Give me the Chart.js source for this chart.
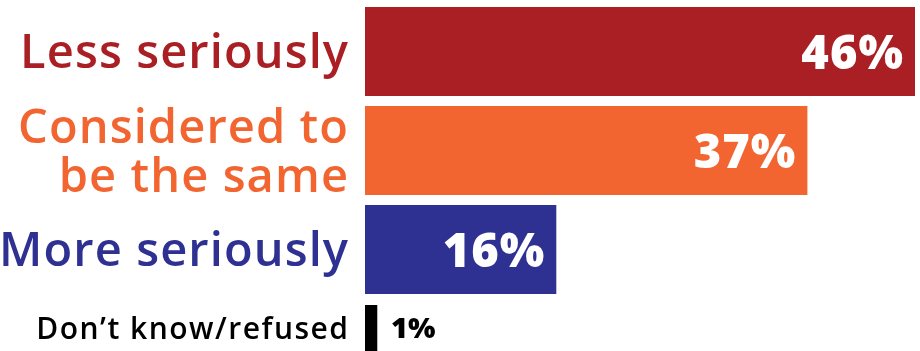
<!DOCTYPE html>
<html>
<head>
<meta charset="utf-8">
<script src="https://cdn.jsdelivr.net/npm/chart.js"></script>
<style>
  body { margin: 0; background: #fff; }
  canvas { display: block; }
</style>
</head>
<body>
<canvas id="chart-main" width="920" height="300"></canvas>
<canvas id="chart-other" width="920" height="51"></canvas>
<script>
const categories = [['Less seriously'], ['Considered to', 'be the same'], ['More seriously'], ['Don’t know/refused']];
const values = [46, 37, 16, 1];
const colors = ['#A91F24', '#F26430', '#2E3192', '#000000'];
const valueLabels = values.map(v => v + '%');

const labelFont = '"Open Sans"';
const valueFont = '"Open Sans"';

// category names on the left + value text on the bars
const barText = {
  id: 'barText',
  afterDatasetsDraw(chart, args, opts) {
    const ctx = chart.ctx;
    const meta = chart.getDatasetMeta(0);
    const yScale = chart.scales.y;
    const left = chart.chartArea.left;
    meta.data.forEach((bar, i) => {
      const k = opts.offset + i;
      const v = values[k];
      const y = yScale.getPixelForTick(i);
      ctx.save();
      ctx.textBaseline = 'alphabetic';

      // category
      ctx.font = '600 ' + opts.labelSize + 'px ' + labelFont;
      ctx.letterSpacing = opts.spacing + 'px';
      ctx.fillStyle = colors[k];
      ctx.textAlign = 'right';
      const lines = categories[k];
      const cap = opts.labelSize * 0.357;
      lines.forEach((line, j) => {
        ctx.fillText(line, left - 17 + opts.spacing, y + cap + (j - (lines.length - 1) / 2) * 49);
      });

      // value
      if (v >= 5) {
        ctx.font = '800 47px ' + valueFont;
        ctx.letterSpacing = '1px';
        ctx.fillStyle = '#fff';
        ctx.textAlign = 'right';
        ctx.fillText(valueLabels[k], bar.x - 11, bar.y + 17);
      } else {
        ctx.font = '800 29px ' + valueFont;
        ctx.letterSpacing = '0px';
        ctx.fillStyle = '#000';
        ctx.textAlign = 'left';
        ctx.fillText(valueLabels[k], bar.x + 14, bar.y + 10);
      }
      ctx.restore();
    });
  }
};

function makeChart(el, from, to, labelSize, spacing, pad, barPct) {
  return new Chart(el, {
    type: 'bar',
    data: {
      labels: categories.slice(from, to).map(c => c.join(' ')),
      datasets: [{
        data: values.slice(from, to),
        backgroundColor: colors.slice(from, to),
        borderWidth: 0,
        barPercentage: barPct,
        categoryPercentage: 1,
      }],
    },
    options: {
      indexAxis: 'y',
      responsive: false,
      animation: false,
      layout: { padding: { top: pad.top, bottom: pad.bottom, left: 0, right: 5 } },
      scales: {
        x: { display: false, min: 0, max: 46 },
        y: {
          afterFit(scale) { scale.width = 365; },
          grid: { display: false, drawTicks: false },
          border: { display: false },
          ticks: { display: false },
        },
      },
      plugins: {
        legend: { display: false },
        tooltip: { enabled: false },
        barText: { offset: from, labelSize: labelSize, spacing: spacing },
      },
    },
    plugins: [barText],
  });
}

makeChart(document.getElementById('chart-main'), 0, 3, 47, 1.1, { top: 2, bottom: 1 }, 0.9);
makeChart(document.getElementById('chart-other'), 3, 4, 30, 1.5, { top: 5, bottom: 0 }, 1);
</script>
</body>
</html>
